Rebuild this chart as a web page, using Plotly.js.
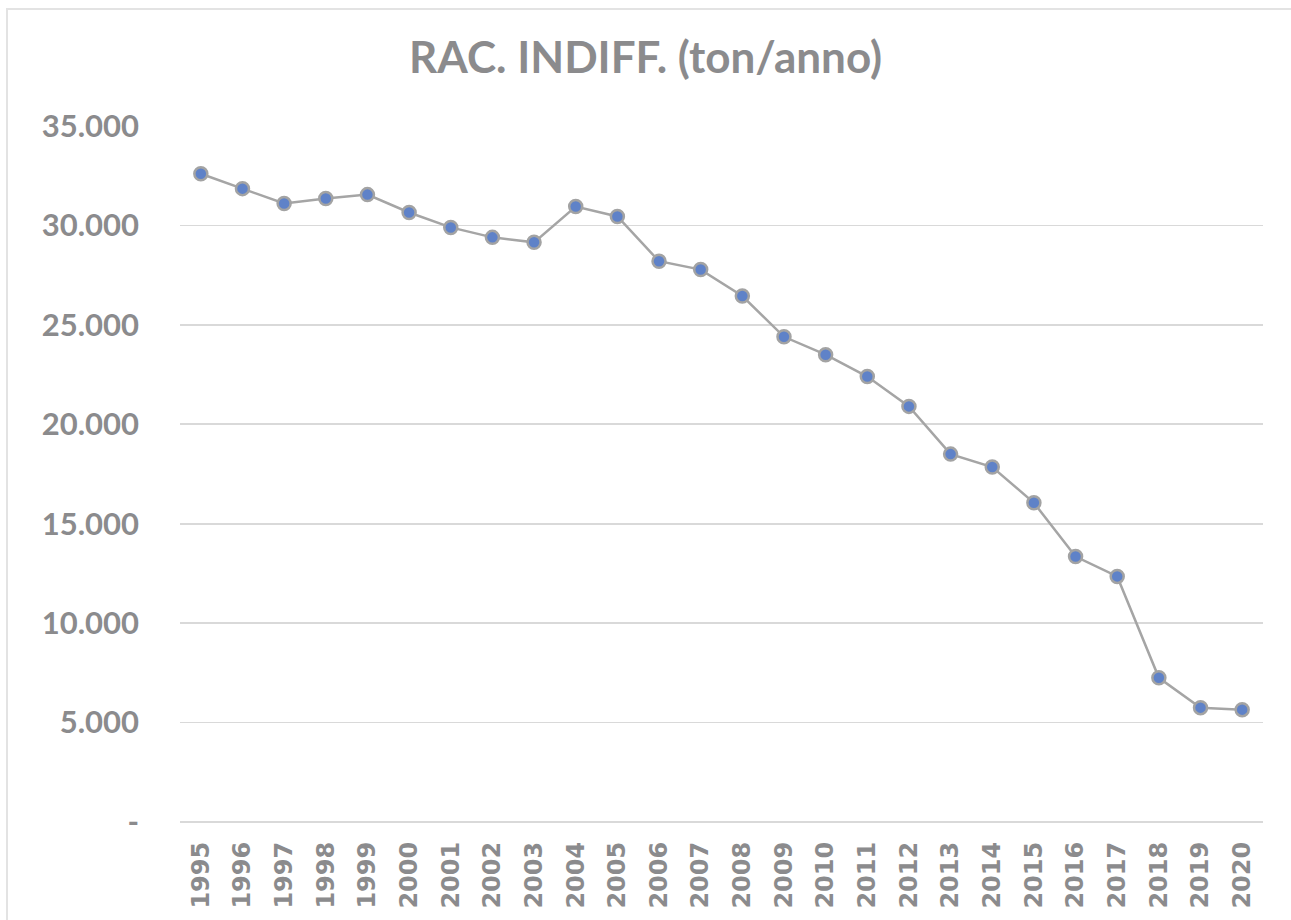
<!DOCTYPE html>
<html>
<head>
<meta charset="utf-8">
<script src="https://cdn.plot.ly/plotly-3.0.1.min.js"></script>
<style>
  html, body { margin: 0; padding: 0; background: #ffffff; overflow: hidden; }
  #chart { position: absolute; left: 0; top: 0; width: 1291px; height: 920px; }
  #frame { position: absolute; left: 6px; top: 8px; width: 1300px; height: 1000px;
           border: 2px solid #E3E3E3; pointer-events: none; box-sizing: border-box; }
</style>
</head>
<body>
<div id="chart"></div>
<div id="frame"></div>
<script>
const chartTitle = 'RAC. INDIFF. (ton/anno)';
const years = ['1995','1996','1997','1998','1999','2000','2001','2002','2003','2004','2005',
               '2006','2007','2008','2009','2010','2011','2012','2013','2014','2015','2016',
               '2017','2018','2019','2020'];
const tonnes = [32600, 31850, 31100, 31350, 31550, 30650, 29900, 29400, 29150, 30950, 30450,
                28200, 27780, 26450, 24400, 23500, 22400, 20900, 18500, 17850, 16050, 13350,
                12350, 7250, 5750, 5650];
const yTickVals = [0, 5000, 10000, 15000, 20000, 25000, 30000, 35000];
const yTickText = ['-', '5.000', '10.000', '15.000', '20.000', '25.000', '30.000', '35.000'];

const textColor = '#8B8B8D';

const trace = {
  x: years,
  y: tonnes,
  type: 'scatter',
  mode: 'lines+markers',
  line: { color: '#A5A5A5', width: 2.5 },
  marker: { size: 13, color: '#5F82C8', line: { color: '#A3A3A3', width: 2.5 } },
  hoverinfo: 'x+y'
};

const layout = {
  width: 1291,
  height: 920,
  paper_bgcolor: '#ffffff',
  plot_bgcolor: '#ffffff',
  margin: { l: 180, r: 28, t: 126, b: 98 },
  showlegend: false,
  title: {
    text: '<b>' + chartTitle + '</b>',
    font: { family: 'Lato, sans-serif', size: 44, color: textColor },
    x: 0.5, xref: 'container', xanchor: 'center',
    y: 1 - 58 / 920, yref: 'container', yanchor: 'middle'
  },
  xaxis: {
    type: 'category',
    range: [-0.5, years.length - 0.5],
    autorange: false,
    automargin: false,
    showgrid: false,
    showline: false,
    zeroline: false,
    ticks: '',
    tickangle: -90,
    tickfont: { family: 'DejaVu Sans', size: 24, color: textColor, weight: 700 },
    ticklabelstandoff: 14
  },
  yaxis: {
    range: [0, 35000],
    autorange: false,
    automargin: false,
    tickvals: yTickVals,
    ticktext: yTickText,
    showgrid: true,
    gridcolor: '#D9D9D9',
    gridwidth: 1.8,
    zeroline: true,
    zerolinecolor: '#D9D9D9',
    zerolinewidth: 2.2,
    showline: false,
    ticks: '',
    tickfont: { family: 'Lato, sans-serif', size: 31, color: textColor, weight: 700 },
    ticklabelstandoff: 40
  }
};

Plotly.newPlot('chart', [trace], layout, { displayModeBar: false, staticPlot: true });
</script>
</body>
</html>
